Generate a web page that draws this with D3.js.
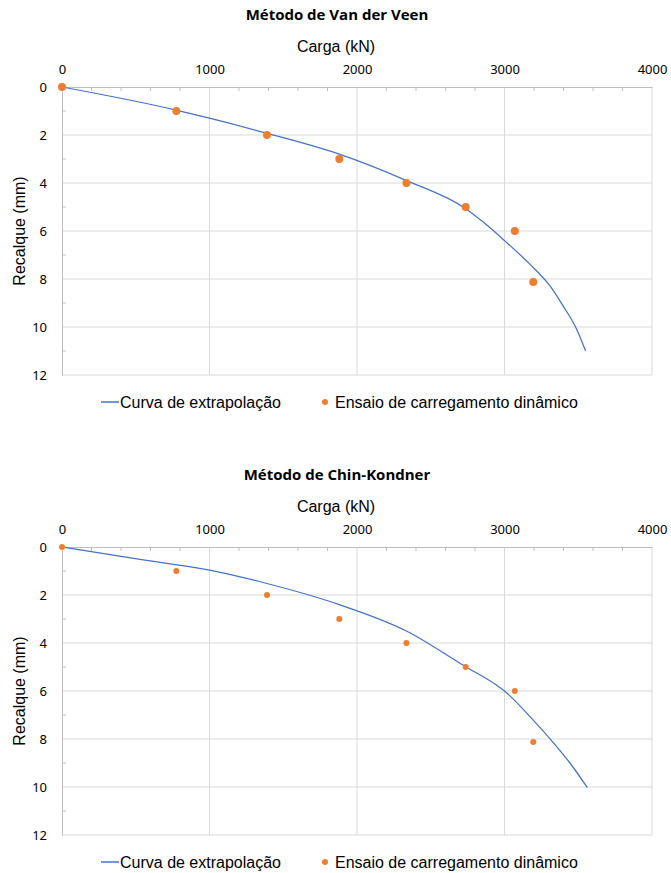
<!DOCTYPE html>
<html>
<head>
<meta charset="utf-8">
<script src="https://cdn.jsdelivr.net/npm/d3@7"></script>
<style>
  body { margin: 0; background: #fff; }
  svg text { fill: #000; }
</style>
</head>
<body>
<div id="chart"></div>
<script>
// ensaio (pontos medidos) - igual nos dois graficos
var ensaioCarga = [0, 775, 1390, 1880, 2335, 2737, 3070, 3195];
var ensaioRecalque = [0, 1, 2, 3, 4, 5, 6, 8.12];

// curva de Van der Veen
var veenCarga = [0, 780, 1000, 1390, 1880, 2335, 2740, 2860, 3000, 3170, 3310, 3400, 3490, 3550];
var veenRecalque = [0, 0.97, 1.3, 1.93, 2.8, 3.9, 5.08, 5.65, 6.4, 7.37, 8.3, 9.15, 10.1, 11];

// curva de Chin-Kondner
var chinCarga = [0, 530, 1000, 1390, 1880, 2335, 2737, 2945, 3000, 3173, 3354, 3444, 3562];
var chinRecalque = [0, 0.52, 0.96, 1.52, 2.4, 3.5, 4.99, 5.75, 6.0, 7.07, 8.32, 9.0, 10.03];

var xTicks = [0, 1000, 2000, 3000, 4000];
var yTicks = [0, 2, 4, 6, 8, 10, 12];
var titulos = ["Método de Van der Veen", "Método de Chin-Kondner"];

var W = 671, H = 873;
var svg = d3.select("#chart").append("svg")
    .attr("width", W).attr("height", H);

function zip(a, b) { return a.map(function(v, i){ return {x: v, y: b[i]}; }); }

function grafico(top, titulo, curvaX, curvaY, rPonto) {
    var left = 62, width = 590, height = 288,
        plotTop = top + 72;

    var g = svg.append("g");

    var x = d3.scaleLinear().domain([0, 4000]).range([left, left + width]),
        y = d3.scaleLinear().domain([0, 12]).range([plotTop, plotTop + height]);

    g.append("text")
        .attr("x", 337).attr("y", top + 5)
        .attr("text-anchor", "middle")
        .style("font", "bold 15px 'Open Sans'")
        .text(titulo);

    g.append("text")
        .attr("x", 336).attr("y", top + 37)
        .attr("text-anchor", "middle")
        .style("font", "16px 'Liberation Sans'")
        .text("Carga (kN)");

    // grade
    g.selectAll(".gx").data(xTicks.slice(1)).enter().append("line")
        .attr("x1", x).attr("x2", x)
        .attr("y1", plotTop).attr("y2", plotTop + height)
        .style("stroke", "#d9d9d9");
    g.selectAll(".gy").data(yTicks.slice(1)).enter().append("line")
        .attr("x1", left).attr("x2", left + width)
        .attr("y1", y).attr("y2", y)
        .style("stroke", "#d9d9d9");

    // eixos
    var xAxis = d3.axisTop(x).tickValues(xTicks).tickFormat(d3.format("d"))
        .tickSize(0).tickPadding(13);
    var xg = g.append("g")
        .attr("transform", "translate(0," + plotTop + ")")
        .call(xAxis);
    xg.select(".domain").style("stroke", "#bfbfbf");
    xg.selectAll("text").style("font", "13px 'Noto Sans'");

    var xMinor = d3.range(200, 4000, 200).filter(function(v){ return v % 1000 != 0; });
    g.selectAll(".mx").data(xMinor).enter().append("line")
        .attr("x1", x).attr("x2", x)
        .attr("y1", plotTop).attr("y2", plotTop + 4)
        .style("stroke", "#bfbfbf");

    var yAxis = d3.axisLeft(y).tickValues(yTicks).tickSize(0).tickPadding(15);
    var yg = g.append("g")
        .attr("transform", "translate(" + left + ",0)")
        .call(yAxis);
    yg.select(".domain").style("stroke", "#bfbfbf");
    yg.selectAll("text").style("font", "13px 'Noto Sans'");

    var yMinor = [1, 3, 5, 7, 9, 11];
    g.selectAll(".my").data(yMinor).enter().append("line")
        .attr("x1", left).attr("x2", left + 4)
        .attr("y1", y).attr("y2", y)
        .style("stroke", "#bfbfbf");

    g.append("text")
        .attr("transform", "translate(25," + (plotTop + height / 2) + ") rotate(-90)")
        .attr("text-anchor", "middle")
        .style("font", "16px 'Liberation Sans'")
        .text("Recalque (mm)");

    var linha = d3.line()
        .x(function(d){ return x(d.x); })
        .y(function(d){ return y(d.y); })
        .curve(d3.curveMonotoneX);

    g.append("path")
        .datum(zip(curvaX, curvaY))
        .attr("d", linha)
        .style("fill", "none")
        .style("stroke", "#4472c4")
        .style("stroke-width", 1.25);

    g.selectAll(".pt").data(zip(ensaioCarga, ensaioRecalque)).enter().append("circle")
        .attr("cx", function(d){ return x(d.x); })
        .attr("cy", function(d){ return y(d.y); })
        .attr("r", rPonto)
        .style("fill", "#ed7d31");

    // legenda
    var ly = plotTop + height + 27;
    g.append("line")
        .attr("x1", 101).attr("x2", 119)
        .attr("y1", ly).attr("y2", ly)
        .style("stroke", "#4472c4").style("stroke-width", 1.5);
    g.append("text")
        .attr("x", 120).attr("y", ly + 6)
        .style("font", "16px 'Liberation Sans'")
        .text("Curva de extrapolação");
    g.append("circle")
        .attr("cx", 325).attr("cy", ly).attr("r", 3)
        .style("fill", "#ed7d31");
    g.append("text")
        .attr("x", 335).attr("y", ly + 6)
        .style("font", "16px 'Liberation Sans'")
        .text("Ensaio de carregamento dinâmico");
}

grafico(15, titulos[0], veenCarga, veenRecalque, 4);
grafico(475, titulos[1], chinCarga, chinRecalque, 3);
</script>
</body>
</html>
